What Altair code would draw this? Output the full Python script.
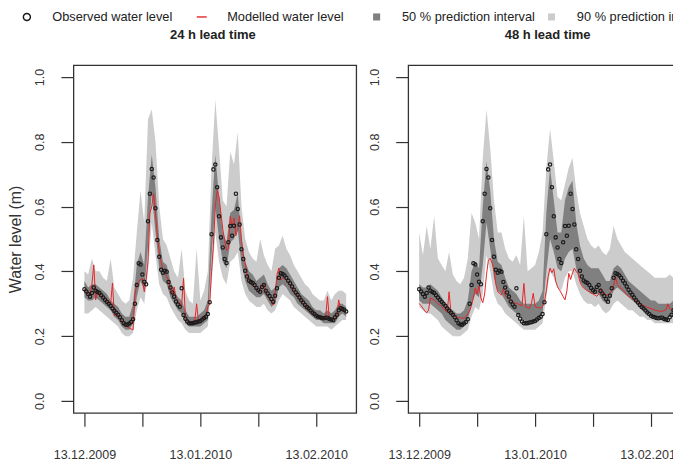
import altair as alt
import pandas as pd

# ---------------- data ----------------
# observed water level, 12-hourly from 13.12.2009 00:00
obs = [
    0.345, 0.338, 0.330, 0.322, 0.333, 0.350, 0.340, 0.336, 0.333, 0.326,
    0.319, 0.312, 0.306, 0.300, 0.294, 0.285, 0.278, 0.272, 0.266, 0.258,
    0.249, 0.240, 0.236, 0.235, 0.239, 0.244, 0.252, 0.300, 0.358, 0.425,
    0.421, 0.390, 0.368, 0.360, 0.555, 0.640, 0.716, 0.690, 0.595, 0.497,
    0.445, 0.405, 0.396, 0.402, 0.399, 0.367, 0.350, 0.335, 0.322, 0.307,
    0.298, 0.291, 0.348, 0.265, 0.254, 0.245, 0.240, 0.240, 0.240, 0.242,
    0.243, 0.245, 0.247, 0.251, 0.256, 0.260, 0.268, 0.305, 0.515, 0.715,
    0.730, 0.660, 0.570, 0.505, 0.474, 0.438, 0.426, 0.490, 0.540, 0.510,
    0.541, 0.640, 0.593, 0.545, 0.468, 0.438, 0.402, 0.384, 0.372, 0.367,
    0.364, 0.358, 0.349, 0.342, 0.337, 0.352, 0.358, 0.340, 0.332, 0.324,
    0.315, 0.306, 0.325, 0.348, 0.380, 0.394, 0.392, 0.387, 0.380, 0.371,
    0.363, 0.353, 0.343, 0.335, 0.328, 0.319, 0.311, 0.304, 0.296, 0.290,
    0.285, 0.279, 0.273, 0.268, 0.263, 0.260, 0.258, 0.256, 0.255, 0.257,
    0.257, 0.253, 0.251, 0.250, 0.258, 0.266, 0.280, 0.286, 0.284, 0.281,
    0.276,
]

# modelled water level, 24 h lead time (12-hourly)
model_24h = [
    0.345, 0.338, 0.330, 0.325, 0.360, 0.420, 0.312, 0.337, 0.330, 0.322,
    0.318, 0.310, 0.305, 0.298, 0.300, 0.364, 0.262, 0.268, 0.262, 0.255,
    0.245, 0.236, 0.230, 0.228, 0.225, 0.222, 0.219, 0.330, 0.360, 0.368,
    0.375, 0.378, 0.337, 0.373, 0.430, 0.580, 0.600, 0.640, 0.580, 0.510,
    0.460, 0.430, 0.405, 0.394, 0.385, 0.372, 0.340, 0.330, 0.352, 0.318,
    0.306, 0.300, 0.296, 0.379, 0.260, 0.248, 0.238, 0.236, 0.238, 0.245,
    0.300, 0.245, 0.248, 0.252, 0.258, 0.262, 0.290, 0.300, 0.400, 0.480,
    0.600, 0.650, 0.630, 0.580, 0.530, 0.497, 0.465, 0.470, 0.570, 0.540,
    0.565, 0.510, 0.530, 0.572, 0.497, 0.450, 0.425, 0.395, 0.370, 0.360,
    0.355, 0.352, 0.345, 0.337, 0.345, 0.355, 0.362, 0.335, 0.325, 0.318,
    0.305, 0.296, 0.330, 0.390, 0.410, 0.373, 0.380, 0.378, 0.372, 0.365,
    0.358, 0.350, 0.340, 0.332, 0.325, 0.316, 0.308, 0.300, 0.293, 0.287,
    0.282, 0.276, 0.270, 0.266, 0.262, 0.259, 0.257, 0.255, 0.254, 0.256,
    0.322, 0.255, 0.250, 0.248, 0.255, 0.262, 0.312, 0.282, 0.280, 0.278,
    0.274,
]

# modelled water level, 48 h lead time (12-hourly)
model_48h = [
    0.301, 0.294, 0.286, 0.278, 0.272, 0.280, 0.318, 0.315, 0.312, 0.306,
    0.300, 0.296, 0.291, 0.285, 0.279, 0.274, 0.337, 0.271, 0.267, 0.263,
    0.259, 0.257, 0.256, 0.256, 0.255, 0.260, 0.268, 0.278, 0.295, 0.318,
    0.348, 0.330, 0.355, 0.318, 0.303, 0.330, 0.389, 0.435, 0.440, 0.425,
    0.405, 0.360, 0.337, 0.332, 0.327, 0.348, 0.325, 0.320, 0.316, 0.312,
    0.308, 0.303, 0.301, 0.299, 0.296, 0.294, 0.363, 0.290, 0.288, 0.286,
    0.300, 0.332, 0.291, 0.289, 0.288, 0.286, 0.292, 0.306, 0.340, 0.385,
    0.410, 0.396, 0.408, 0.370, 0.352, 0.343, 0.333, 0.322, 0.312, 0.340,
    0.394, 0.375, 0.395, 0.410, 0.400, 0.392, 0.368, 0.355, 0.348, 0.344,
    0.340, 0.337, 0.333, 0.330, 0.327, 0.323, 0.330, 0.348, 0.332, 0.330,
    0.328, 0.327, 0.332, 0.340, 0.355, 0.384, 0.360, 0.352, 0.348, 0.343,
    0.337, 0.328, 0.324, 0.320, 0.316, 0.312, 0.309, 0.305, 0.301, 0.298,
    0.295, 0.292, 0.289, 0.287, 0.285, 0.283, 0.281, 0.279, 0.278, 0.276,
    0.277, 0.279, 0.281, 0.300, 0.285, 0.283, 0.282, 0.281, 0.280, 0.279,
    0.278,
]

# prediction intervals, daily from 13.12.2009 -- 24 h lead time
lo90_24h = [0.27, 0.27, 0.28, 0.29, 0.28, 0.27, 0.26, 0.25, 0.24, 0.23,
            0.21, 0.20, 0.20, 0.21, 0.28, 0.32, 0.30, 0.40, 0.55, 0.45,
            0.36, 0.33, 0.32, 0.29, 0.27, 0.25, 0.24, 0.22, 0.21, 0.21,
            0.21, 0.21, 0.22, 0.23, 0.36, 0.52, 0.43, 0.38, 0.36, 0.43,
            0.44, 0.46, 0.37, 0.33, 0.31, 0.30, 0.29, 0.29, 0.30, 0.28,
            0.27, 0.28, 0.31, 0.33, 0.32, 0.31, 0.29, 0.28, 0.27, 0.26,
            0.25, 0.24, 0.23, 0.23, 0.23, 0.23, 0.22, 0.23, 0.24, 0.25,
            0.25]
lo50_24h = [0.32, 0.31, 0.31, 0.32, 0.31, 0.30, 0.29, 0.28, 0.26, 0.25,
            0.23, 0.22, 0.22, 0.24, 0.32, 0.37, 0.34, 0.48, 0.64, 0.52,
            0.41, 0.37, 0.36, 0.32, 0.30, 0.28, 0.27, 0.24, 0.23, 0.23,
            0.23, 0.23, 0.24, 0.25, 0.45, 0.60, 0.50, 0.43, 0.41, 0.49,
            0.50, 0.53, 0.42, 0.37, 0.34, 0.33, 0.32, 0.32, 0.33, 0.31,
            0.29, 0.30, 0.35, 0.36, 0.35, 0.33, 0.32, 0.30, 0.29, 0.28,
            0.27, 0.26, 0.25, 0.25, 0.24, 0.24, 0.24, 0.24, 0.26, 0.27,
            0.26]
hi50_24h = [0.37, 0.35, 0.36, 0.36, 0.35, 0.34, 0.33, 0.31, 0.30, 0.29,
            0.27, 0.26, 0.26, 0.30, 0.42, 0.46, 0.42, 0.63, 0.76, 0.66,
            0.50, 0.43, 0.42, 0.37, 0.34, 0.32, 0.31, 0.28, 0.26, 0.26,
            0.26, 0.27, 0.28, 0.31, 0.58, 0.76, 0.63, 0.52, 0.49, 0.58,
            0.59, 0.64, 0.50, 0.43, 0.40, 0.39, 0.37, 0.38, 0.39, 0.36,
            0.34, 0.35, 0.41, 0.42, 0.41, 0.39, 0.37, 0.35, 0.33, 0.32,
            0.31, 0.29, 0.28, 0.28, 0.27, 0.28, 0.27, 0.28, 0.30, 0.30,
            0.29]
hi90_24h = [0.40, 0.39, 0.44, 0.40, 0.40, 0.38, 0.37, 0.44, 0.35, 0.33,
            0.31, 0.30, 0.31, 0.38, 0.52, 0.65, 0.55, 0.87, 0.90, 0.80,
            0.60, 0.50, 0.48, 0.44, 0.40, 0.38, 0.47, 0.34, 0.31, 0.30,
            0.47, 0.31, 0.34, 0.40, 0.72, 0.93, 0.78, 0.62, 0.60, 0.77,
            0.73, 0.83, 0.60, 0.50, 0.46, 0.44, 0.43, 0.50, 0.45, 0.42,
            0.40, 0.47, 0.48, 0.51, 0.47, 0.45, 0.42, 0.40, 0.38, 0.36,
            0.35, 0.33, 0.32, 0.31, 0.31, 0.34, 0.31, 0.33, 0.34, 0.34,
            0.33]

# prediction intervals, daily -- 48 h lead time
lo90_48h = [0.29, 0.28, 0.27, 0.27, 0.26, 0.25, 0.23, 0.22, 0.21, 0.20,
            0.20, 0.20, 0.21, 0.22, 0.26, 0.29, 0.28, 0.33, 0.45, 0.40,
            0.33, 0.30, 0.29, 0.27, 0.26, 0.25, 0.24, 0.23, 0.22, 0.22,
            0.22, 0.22, 0.23, 0.24, 0.32, 0.40, 0.38, 0.35, 0.34, 0.38,
            0.40, 0.40, 0.36, 0.33, 0.31, 0.30, 0.30, 0.29, 0.30, 0.28,
            0.27, 0.28, 0.30, 0.31, 0.30, 0.29, 0.28, 0.28, 0.27, 0.26,
            0.26, 0.25, 0.25, 0.24, 0.24, 0.24, 0.24, 0.24, 0.24, 0.24,
            0.24]
lo50_48h = [0.31, 0.30, 0.30, 0.30, 0.29, 0.28, 0.27, 0.25, 0.24, 0.23,
            0.22, 0.22, 0.23, 0.25, 0.30, 0.33, 0.32, 0.42, 0.55, 0.47,
            0.38, 0.34, 0.33, 0.31, 0.29, 0.28, 0.27, 0.26, 0.25, 0.24,
            0.25, 0.25, 0.26, 0.27, 0.40, 0.50, 0.46, 0.41, 0.40, 0.44,
            0.46, 0.47, 0.41, 0.37, 0.35, 0.34, 0.33, 0.33, 0.33, 0.31,
            0.30, 0.31, 0.34, 0.35, 0.34, 0.33, 0.32, 0.31, 0.30, 0.29,
            0.28, 0.27, 0.27, 0.26, 0.26, 0.26, 0.25, 0.26, 0.26, 0.26,
            0.26]
hi50_48h = [0.36, 0.35, 0.35, 0.36, 0.35, 0.34, 0.32, 0.30, 0.29, 0.28,
            0.27, 0.27, 0.28, 0.31, 0.40, 0.43, 0.41, 0.60, 0.74, 0.65,
            0.50, 0.43, 0.42, 0.38, 0.35, 0.34, 0.33, 0.31, 0.30, 0.30,
            0.30, 0.30, 0.31, 0.34, 0.58, 0.72, 0.62, 0.52, 0.52, 0.62,
            0.66, 0.68, 0.55, 0.48, 0.44, 0.42, 0.41, 0.41, 0.41, 0.39,
            0.37, 0.37, 0.41, 0.42, 0.41, 0.39, 0.37, 0.36, 0.35, 0.34,
            0.33, 0.32, 0.31, 0.31, 0.30, 0.30, 0.30, 0.30, 0.31, 0.30,
            0.30]
hi90_48h = [0.52, 0.45, 0.54, 0.47, 0.57, 0.44, 0.42, 0.40, 0.46, 0.39,
            0.37, 0.36, 0.38, 0.44, 0.58, 0.55, 0.50, 0.75, 0.90, 0.78,
            0.62, 0.52, 0.52, 0.47, 0.44, 0.43, 0.45, 0.42, 0.57, 0.40,
            0.41, 0.42, 0.46, 0.52, 0.72, 0.84, 0.74, 0.63, 0.62, 0.67,
            0.72, 0.75, 0.65, 0.58, 0.54, 0.50, 0.48, 0.47, 0.48, 0.46,
            0.45, 0.47, 0.54, 0.50, 0.48, 0.46, 0.45, 0.44, 0.43, 0.42,
            0.41, 0.40, 0.39, 0.38, 0.38, 0.38, 0.38, 0.39, 0.38, 0.37,
            0.37]

series_labels = ["Observed water level", "Modelled water level",
                 "50 % prediction interval", "90 % prediction interval"]
panel_titles = ["24 h lead time", "48 h lead time"]
y_ticks = [0.0, 0.2, 0.4, 0.6, 0.8, 1.0]

# ---------------- styling ----------------
FONT = "Liberation Sans"
LIGHT = "#cccccc"
DARK = "#808080"
RED = "#e3262a"
INK = "#1a1a1a"

t12 = pd.date_range("2009-12-13", periods=len(obs), freq="12h").strftime("%Y-%m-%dT%H:%M:%S")
tday = pd.date_range("2009-12-13", periods=len(lo90_24h), freq="D").strftime("%Y-%m-%dT%H:%M:%S")

x_scale = alt.Scale(domain=[alt.DateTime(year=2009, month=12, date=10, hours=1, minutes=27),
                            alt.DateTime(year=2010, month=2, date=23, hours=16, minutes=34)],
                    nice=False)
y_scale = alt.Scale(domain=[-0.037, 1.037], nice=False, zero=False)

x_ticks = [alt.DateTime(year=2009, month=12, date=13),
           alt.DateTime(year=2009, month=12, date=28, hours=12),
           alt.DateTime(year=2010, month=1, date=13),
           alt.DateTime(year=2010, month=1, date=28, hours=12),
           alt.DateTime(year=2010, month=2, date=13)]

x_axis = alt.Axis(title=None, values=x_ticks, tickSize=13.5, labelPadding=32,
                  labelBaseline="alphabetic",
                  labelExpr="date(datum.value) == 13 ? timeFormat(datum.value, '%d.%m.%Y') : ''")


def y_axis(with_title):
    kw = dict(values=y_ticks, format=".1f", tickSize=12.5, labelAngle=-90,
              labelAlign="center", labelBaseline="alphabetic", labelPadding=17.5)
    if with_title:
        kw.update(title="Water level (m)", titleFontSize=16, titleAngle=-90,
                  titleBaseline="alphabetic", titleX=-53, titleY=174,
                  titleAlign="center")
    else:
        kw.update(title=None)
    return alt.Axis(**kw)


legend = alt.Legend(title=None, orient="none", direction="horizontal", columns=4,
                    gridAlign="all", legendX=-53, legendY=-55,
                    symbolSize=50, symbolStrokeWidth=1.4, labelOffset=19,
                    columnPadding=8, labelFont=FONT, labelFontSize=12.8,
                    labelColor="#222222", labelLimit=0)

shape_scale = alt.Scale(domain=series_labels,
                        range=["circle", "M-1.4,0L1.4,0", "square", "square"])
stroke_scale = alt.Scale(domain=series_labels,
                         range=[INK, RED, "transparent", "transparent"])
fill_scale = alt.Scale(domain=series_labels,
                       range=["transparent", "transparent", DARK, LIGHT])


def panel(model, lo90, lo50, hi50, hi90, title, with_ytitle):
    line_df = pd.DataFrame({"date": t12, "obs": obs, "model": model,
                            "series": series_labels[0]})
    band_df = pd.DataFrame({"date": tday, "lo90": lo90, "lo50": lo50,
                            "hi50": hi50, "hi90": hi90})
    X = alt.X("date:T", scale=x_scale, axis=x_axis)
    yax = y_axis(with_ytitle)

    band90 = alt.Chart(band_df).mark_area(color=LIGHT, opacity=1).encode(
        x=X, y=alt.Y("lo90:Q", scale=y_scale, axis=yax), y2="hi90:Q")
    band50 = alt.Chart(band_df).mark_area(color=DARK, opacity=1).encode(
        x=X, y=alt.Y("lo50:Q", scale=y_scale, axis=yax), y2="hi50:Q")
    line = alt.Chart(line_df).mark_line(color=RED, strokeWidth=1).encode(
        x=X, y=alt.Y("model:Q", scale=y_scale, axis=yax))
    pts = alt.Chart(line_df).mark_point(size=11, strokeWidth=1.2, filled=True, opacity=1).encode(
        x=X, y=alt.Y("obs:Q", scale=y_scale, axis=yax),
        shape=alt.Shape("series:N", scale=shape_scale, legend=legend),
        stroke=alt.Stroke("series:N", scale=stroke_scale, legend=legend),
        fill=alt.Fill("series:N", scale=fill_scale, legend=legend))
    return alt.layer(band90, band50, line, pts).properties(
        width=283, height=348,
        title=alt.TitleParams(title, fontSize=13, fontWeight="bold", font=FONT,
                              color="#222222", anchor="middle", baseline="alphabetic",
                              frame="group", offset=13, dx=-2))


left = panel(model_24h, lo90_24h, lo50_24h, hi50_24h, hi90_24h, panel_titles[0], True)
right = panel(model_48h, lo90_48h, lo50_48h, hi50_48h, hi90_48h, panel_titles[1], False)

chart = alt.hconcat(left, right, spacing=52, bounds="flush",
                    padding={"left": 6.5, "top": 10, "right": -37, "bottom": 0}
                    ).configure_view(stroke="#333333", strokeWidth=1.3
                    ).configure_axis(grid=False, domain=False, labelFont=FONT, labelFontSize=12.5,
                                     labelColor="#333333", tickColor="#333333", tickWidth=1.2,
                                     titleFont=FONT, titleFontWeight="normal", titleColor="#333333")

chart.save("out.html", embed_options={"renderer": "svg", "actions": False})
